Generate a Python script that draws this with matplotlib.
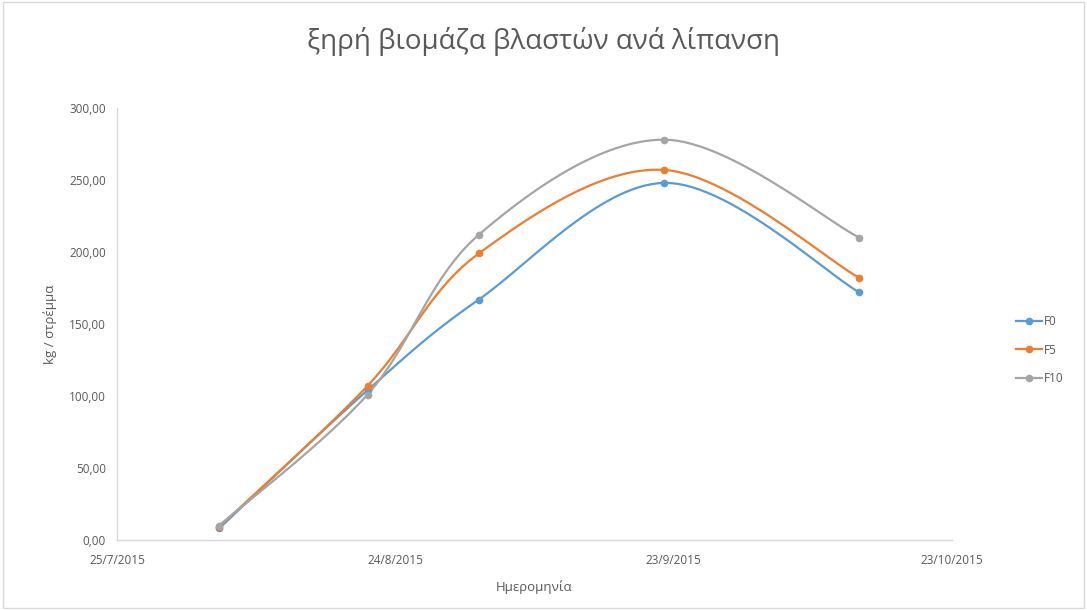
import numpy as np
import matplotlib
matplotlib.use("Agg")
import matplotlib.pyplot as plt
import matplotlib.dates as mdates
from matplotlib.lines import Line2D
from matplotlib.patches import Rectangle
import datetime as dt

plt.rcParams['font.family'] = ['Open Sans', 'DejaVu Sans']

# data
dates = [dt.date(2015, 8, 5), dt.date(2015, 8, 21), dt.date(2015, 9, 2),
         dt.date(2015, 9, 22), dt.date(2015, 10, 13)]
f0 = [8, 104, 167, 248, 172]
f5 = [9, 107, 199, 257, 182]
f10 = [10, 101, 212, 278, 210]
series_names = ['F0', 'F5', 'F10']
colors = ['#5B9BD5', '#ED7D31', '#A5A5A5']
xticks = [dt.date(2015, 7, 25), dt.date(2015, 8, 24), dt.date(2015, 9, 23), dt.date(2015, 10, 23)]
yticks = [0, 50, 100, 150, 200, 250, 300]


def smooth(x, y, n=30):
    # excel-like smoothed line (cardinal bezier through the points)
    x = np.asarray(x, float)
    y = np.asarray(y, float)
    px = np.concatenate([[x[0]], x, [x[-1]]])
    py = np.concatenate([[y[0]], y, [y[-1]]])
    xs, ys = [], []
    t = np.linspace(0, 1, n)
    for i in range(1, len(px) - 2):
        p0 = np.array([px[i], py[i]])
        p3 = np.array([px[i + 1], py[i + 1]])
        c1 = p0 + (np.array([px[i + 1], py[i + 1]]) - np.array([px[i - 1], py[i - 1]])) / 6
        c2 = p3 - (np.array([px[i + 2], py[i + 2]]) - np.array([px[i], py[i]])) / 6
        b = ((1 - t) ** 3)[:, None] * p0 + (3 * (1 - t) ** 2 * t)[:, None] * c1 \
            + (3 * (1 - t) * t ** 2)[:, None] * c2 + (t ** 3)[:, None] * p3
        xs.extend(b[:, 0])
        ys.extend(b[:, 1])
    return np.array(xs), np.array(ys)


fig = plt.figure(figsize=(10.87, 6.10), dpi=100)
ax = fig.add_axes([117 / 1087, 1 - 540 / 610, (952 - 117) / 1087, (540 - 108) / 610])

xnum = mdates.date2num(dates)
handles = []
for vals, name, c in zip([f0, f5, f10], series_names, colors):
    sx, sy = smooth(xnum, vals)
    ax.plot(sx, sy, color=c, lw=1.6, solid_capstyle='round', zorder=3)
    ax.plot(xnum, vals, 'o', color=c, ms=4.5, zorder=4)
    handles.append(Line2D([0], [0], color=c, lw=1.6, marker='o', ms=4.5, label=name))

ax.set_xlim(mdates.date2num(xticks[0]), mdates.date2num(xticks[-1]))
ax.set_ylim(0, 300)
ax.set_xticks(mdates.date2num(xticks))
ax.set_xticklabels([f'{d.day}/{d.month}/{d.year}' for d in xticks])
ax.set_yticks(yticks)
ax.set_yticklabels([f'{v:.2f}'.replace('.', ',') for v in yticks])
ax.tick_params(length=0, labelsize=8.5, colors='#595959', pad=8)
ax.tick_params(axis='x', pad=10)

for s in ['top', 'right']:
    ax.spines[s].set_visible(False)
for s in ['left', 'bottom']:
    ax.spines[s].set_color('#D9D9D9')
    ax.spines[s].set_linewidth(1)

ax.set_xlabel('Ημερομηνία', fontsize=9.5, color='#595959')
ax.set_ylabel('kg / στρέμμα', fontsize=9.5, color='#595959')
ax.xaxis.set_label_coords(0.5, -40 / 432)
ax.yaxis.set_label_coords(-60 / 835, 0.5)

fig.text(0.5, 1 - 42 / 610, 'ξηρή βιομάζα βλαστών ανά λίπανση', ha='center', va='center',
         fontsize=20, color='#595959')

fig.legend(handles=handles, loc='center left', bbox_to_anchor=(1005 / 1087, 1 - 350 / 610),
           frameon=False, fontsize=8.5, labelcolor='#595959', handlelength=2.2,
           handletextpad=0.2, labelspacing=1.3)

fig.patches.append(Rectangle((0.003, 0.003), 0.994, 0.994, transform=fig.transFigure,
                             fill=False, edgecolor='#D9D9D9', lw=1))

fig.savefig('out.png', dpi=100)
